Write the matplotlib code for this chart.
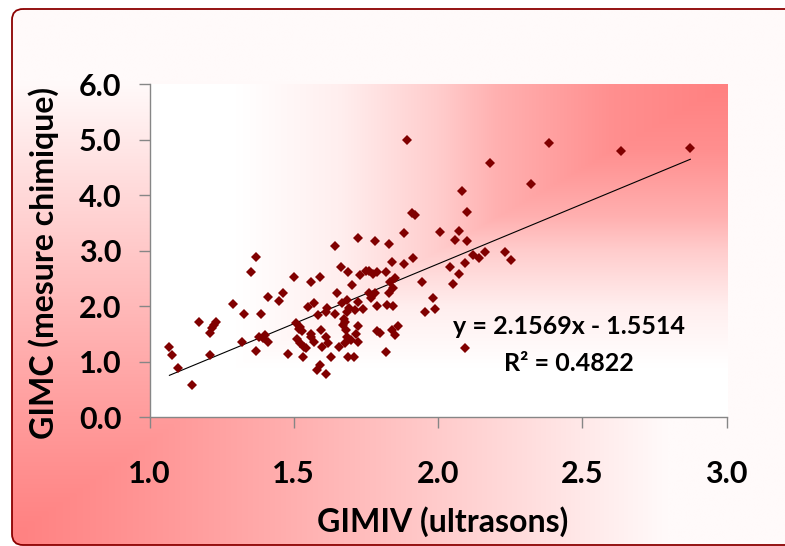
import numpy as np
import matplotlib
matplotlib.use("Agg")
import matplotlib.pyplot as plt
from matplotlib.patches import FancyBboxPatch
from matplotlib.ticker import FormatStrFormatter

plt.rcParams['font.family'] = ['Lato', 'DejaVu Sans']

# GIMIV (ultrasons) values
gimiv = [
    1.069, 1.078, 1.100, 1.147, 1.170, 1.208, 1.208, 1.216, 1.224, 1.231,
    1.289, 1.319, 1.328, 1.351, 1.369, 1.369, 1.378, 1.388, 1.392, 1.401,
    1.411, 1.411, 1.448, 1.462, 1.481, 1.499, 1.507, 1.511, 1.517, 1.521,
    1.523, 1.528, 1.532, 1.535, 1.542, 1.550, 1.558, 1.559, 1.561, 1.569,
    1.569, 1.581, 1.584, 1.591, 1.592, 1.593, 1.599, 1.610, 1.610, 1.612,
    1.614, 1.620, 1.628, 1.642, 1.643, 1.651, 1.658, 1.662, 1.667, 1.672,
    1.674, 1.677, 1.677, 1.680, 1.684, 1.685, 1.686, 1.688, 1.688, 1.692,
    1.697, 1.701, 1.710, 1.712, 1.714, 1.721, 1.721, 1.722, 1.730, 1.739,
    1.750, 1.761, 1.762, 1.767, 1.775, 1.781, 1.790, 1.790, 1.790, 1.799,
    1.820, 1.821, 1.823, 1.831, 1.831, 1.833, 1.839, 1.841, 1.844, 1.844,
    1.852, 1.851, 1.860, 1.883, 1.912, 1.943, 1.953, 1.981, 1.989,
    1.891, 1.910, 1.920, 1.721, 1.781, 1.883, 2.007,
    2.042, 2.072, 2.050, 2.092, 2.121, 2.141, 2.161, 2.231, 2.254, 2.092,
    2.059, 2.101, 2.072, 2.101, 2.082, 2.323, 2.181, 2.384, 2.634, 2.874,
]

# GIMC (mesure chimique) values, same order
gimc = [
    1.271, 1.121, 0.881, 0.586, 1.715, 1.121, 1.511, 1.601, 1.662, 1.722,
    2.040, 1.361, 1.860, 2.611, 2.893, 1.193, 1.451, 1.860, 1.421, 1.487,
    1.361, 2.172, 2.088, 2.232, 1.139, 2.527, 1.691, 1.403, 1.583, 1.343,
    1.620, 1.559, 1.091, 1.271, 1.247, 1.992, 1.451, 2.430, 1.499, 2.052,
    1.349, 0.851, 1.842, 2.527, 0.941, 1.571, 1.259, 1.902, 0.779, 1.451,
    1.962, 1.331, 1.091, 3.086, 1.860, 2.232, 1.271, 2.713, 2.052, 1.662,
    1.764, 1.715, 1.331, 1.571, 1.451, 1.902, 2.112, 2.611, 1.079, 1.962,
    1.391, 2.382, 1.079, 1.932, 1.499, 2.076, 1.643, 1.355, 2.563, 1.944,
    2.629, 2.629, 2.244, 2.142, 2.581, 2.232, 2.004, 2.623, 1.560, 1.511,
    2.623, 1.175, 2.016, 3.122, 2.245, 2.437, 1.572, 2.797, 2.010, 2.323,
    2.515, 1.482, 1.643, 2.755, 2.875, 2.431, 1.890, 2.155, 1.950,
    4.996, 3.674, 3.644, 3.236, 3.183, 3.326, 3.331,
    2.713, 2.581, 2.400, 2.785, 2.924, 2.863, 2.984, 2.984, 2.833, 1.241,
    3.193, 3.181, 3.362, 3.704, 4.083, 4.209, 4.586, 4.948, 4.798, 4.852,
]

slope = 2.1569
intercept = -1.5514
r2 = 0.4822

W, H = 785, 546
fig = plt.figure(figsize=(W / 100, H / 100), dpi=100)
fig.patch.set_facecolor('white')

red = np.array([255, 128, 128]) / 255.0
pale = np.array([255, 250, 250]) / 255.0
white = np.array([255, 255, 255]) / 255.0

# background of the chart area: gradient from the bottom-left corner
bg = fig.add_axes([0, 0, 1, 1], zorder=0)
bg.set_xlim(0, W)
bg.set_ylim(H, 0)
bg.axis('off')
gx, gy = np.meshgrid(np.linspace(0, 1, 400), np.linspace(0, 1, 300))
s = np.maximum(gx, 1 - gy)
f = np.clip(s / 0.85, 0, 1) ** 1.15
img = red[None, None, :] * (1 - f[..., None]) + pale[None, None, :] * f[..., None]
frame = FancyBboxPatch((12, 9), 790, 536, boxstyle="round,pad=0,rounding_size=11",
                       facecolor='none', edgecolor='#8B0000', lw=1.3)
im = bg.imshow(img, extent=(0, W, H, 0), aspect='auto', interpolation='bilinear')
bg.add_patch(frame)
im.set_clip_path(frame)

# plot area, gradient from the top-right corner
ax = fig.add_axes([149.5 / W, 1 - 417.2 / H, 577.2 / W, 333 / H], zorder=1)

px, py = np.meshgrid(np.linspace(0, 1, 400), np.linspace(0, 1, 300))
s2 = np.maximum(1 - px, py)
f2 = np.interp(s2, [0, 0.2, 0.4, 0.5, 0.67, 0.85, 1], [0, 0.12, 0.38, 0.6, 0.87, 1, 1])
img2 = red[None, None, :] * (1 - f2[..., None]) + white[None, None, :] * f2[..., None]
ax.imshow(img2, extent=(1, 3, 0, 6), aspect='auto', interpolation='bilinear', zorder=0)
ax.set_xlim(1.0, 3.0)
ax.set_ylim(0.0, 6.0)

ax.plot(gimiv, gimc, linestyle='none', marker='D', markersize=4.6,
        color='#800000', markeredgewidth=0, zorder=3)

xs = np.array([min(gimiv), max(gimiv)])
ax.plot(xs, slope * xs + intercept, color='black', lw=0.8, zorder=2)

ax.text(2.452, 1.626, f"y = {slope}x - {abs(intercept)}", ha='center', va='center',
        fontsize=18, fontweight='bold', zorder=4)
ax.text(2.452, 0.959, f"R² = {r2}", ha='center', va='center',
        fontsize=18, fontweight='bold', zorder=4)

for side in ['top', 'right']:
    ax.spines[side].set_visible(False)
for side in ['left', 'bottom']:
    ax.spines[side].set_color('#868686')
    ax.spines[side].set_linewidth(1.0)

ax.set_xticks([1.0, 1.5, 2.0, 2.5, 3.0])
ax.set_yticks([0, 1, 2, 3, 4, 5, 6])
ax.xaxis.set_major_formatter(FormatStrFormatter('%.1f'))
ax.yaxis.set_major_formatter(FormatStrFormatter('%.1f'))
ax.tick_params(axis='both', direction='out', length=8, width=1, color='#868686',
               labelsize=22)
ax.tick_params(axis='x', pad=23)
ax.tick_params(axis='y', pad=12)
for lab in ax.get_xticklabels() + ax.get_yticklabels():
    lab.set_fontweight('bold')

ax.set_xlabel("GIMIV (ultrasons)", fontsize=23, fontweight='bold', va='center')
ax.set_ylabel("GIMC (mesure chimique)", fontsize=23, fontweight='bold', va='center')
ax.xaxis.set_label_coords(0.507, -0.315)
ax.yaxis.set_label_coords(-0.183, 0.463)

fig.savefig('out.png', dpi=100)
